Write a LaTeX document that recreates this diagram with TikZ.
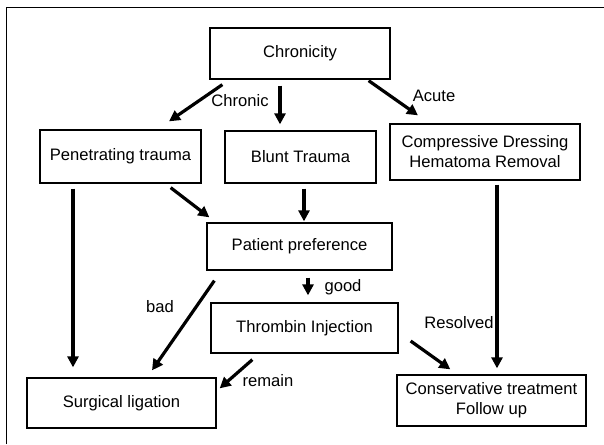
\documentclass[tikz,border=0pt]{standalone}
\usepackage{fontspec}
\setmainfont{Liberation Sans}
\usetikzlibrary{arrows.meta}

\tikzset{
  box/.style={draw, line width=1.3pt, fill=white, align=center, inner sep=0pt,
    font=\fontsize{16.6}{20}\selectfont},
  arr/.style={-{Triangle[length=11pt,width=11pt]}, line width=3.2pt},
  lbl/.style={font=\fontsize{16.6}{20}\selectfont, inner sep=0pt}
}

\begin{document}
\begin{tikzpicture}[x=1pt,y=-1pt]
\useasboundingbox (0,0) rectangle (604,444);
\draw[line width=1.3pt] (6.5,444) -- (6.5,7.5) -- (604,7.5);

\node[box, minimum width=180, minimum height=51] (chron) at (300,53.5) {Chronicity};
\node[box, minimum width=161, minimum height=53] (pen) at (120.5,156.5) {Penetrating trauma};
\node[box, minimum width=151, minimum height=52] (blunt) at (300.5,157) {Blunt Trauma};
\node[box, minimum width=190, minimum height=56] (comp) at (485,152) {Compressive Dressing\\Hematoma Removal};
\node[box, minimum width=185, minimum height=47] (pref) at (299.5,246.5) {Patient preference};
\node[box, minimum width=187, minimum height=50] (thromb) at (304.5,328) {Thrombin Injection};
\node[box, minimum width=189, minimum height=50] (surg) at (121.5,403) {Surgical ligation};
\node[box, minimum width=189, minimum height=51] (cons) at (491.5,400.5) {Conservative treatment\\Follow up};

\node[lbl] (chronic) at (240,101) {Chronic};
\node[lbl] (acute) at (434,96) {Acute};
\node[lbl] (bad) at (160,307) {bad};
\node[lbl] (good) at (343,287) {good};
\node[lbl] (resolved) at (459,323) {Resolved};
\node[lbl] (remain) at (268,381) {remain};

\draw[arr] ([xshift=13pt,yshift=-5pt]chron.south west) -- ([xshift=48.5pt,yshift=8pt]pen.north);
\draw[arr] ([xshift=-20pt,yshift=-6pt]chron.south) -- ([xshift=-20.5pt,yshift=6pt]blunt.north);
\draw[arr] ([xshift=-22pt,yshift=-1pt]chron.south east) -- ([xshift=-67pt,yshift=8pt]comp.north);

\draw[arr] ([xshift=-47.5pt,yshift=-5pt]pen.south) -- ([xshift=-48.5pt,yshift=10pt]surg.north);
\draw[arr] ([xshift=-31pt,yshift=-4pt]pen.south east) -- ([xshift=3pt,yshift=5pt]pref.north west);
\draw[arr] ([xshift=3.5pt,yshift=-5pt]blunt.south) -- ([xshift=4.5pt,yshift=1pt]pref.north);
\draw[arr] ([xshift=12pt,yshift=-4pt]comp.south) -- ([xshift=5.5pt,yshift=6pt]cons.north);

\draw[arr] ([xshift=8pt,yshift=-10pt]pref.south west) -- ([xshift=30.5pt,yshift=7pt]surg.north);
\draw[arr] ([xshift=8.5pt,yshift=-7pt]pref.south) -- ([xshift=3.5pt,yshift=7pt]thromb.north);
\draw[arr] ([xshift=42pt,yshift=-6pt]thromb.south west) -- ([xshift=3pt,yshift=-11pt]surg.north east);
\draw[arr] ([xshift=12pt,yshift=-13pt]thromb.east) -- ([xshift=54pt,yshift=5pt]cons.north west);
\end{tikzpicture}
\end{document}
